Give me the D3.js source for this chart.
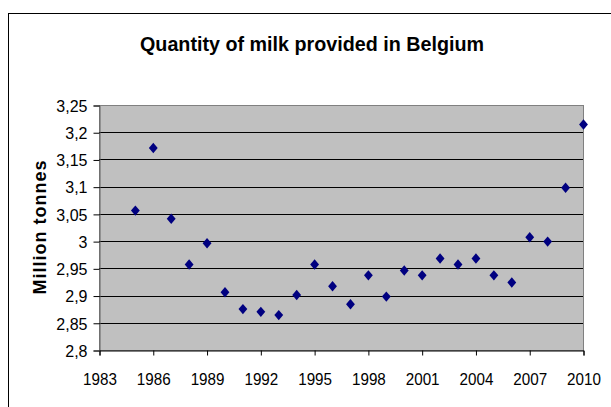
<!DOCTYPE html>
<html>
<head>
<meta charset="utf-8">
<script src="https://cdn.jsdelivr.net/npm/d3@7"></script>
<style>
  html, body { margin: 0; padding: 0; background: #fff; }
  svg { display: block; font-family: Arial, "Liberation Sans", sans-serif; }
</style>
</head>
<body>
<svg id="chart" width="611" height="407"></svg>
<script>
// Milk delivered in Belgium, million tonnes per year
const years = [1985, 1986, 1987, 1988, 1989, 1990, 1991, 1992, 1993, 1994, 1995, 1996, 1997,
               1998, 1999, 2000, 2001, 2002, 2003, 2004, 2005, 2006, 2007, 2008, 2009, 2010];
const milk = [3.057, 3.172, 3.042, 2.958, 2.997, 2.907, 2.876, 2.871, 2.865, 2.902, 2.958, 2.918, 2.885,
              2.938, 2.899, 2.947, 2.938, 2.969, 2.958, 2.969, 2.938, 2.925, 3.008, 3.000, 3.099, 3.215];
const xTicks = [1983, 1986, 1989, 1992, 1995, 1998, 2001, 2004, 2007, 2010];
const yTicks = [2.8, 2.85, 2.9, 2.95, 3, 3.05, 3.1, 3.15, 3.2, 3.25];

const svg = d3.select("#chart");
const plot = { left: 99, right: 583, top: 105, bottom: 350 };
const FONT = "Arial, 'Liberation Sans', sans-serif";

const x = d3.scaleLinear().domain([1983, 2010]).range([plot.left, plot.right]);
const y = d3.scaleLinear().domain([2.8, 3.25]).range([plot.bottom, plot.top]);
const fmt = d => String(+d.toFixed(2)).replace(".", ",");

// Chart frame
svg.append("rect")
  .attr("x", 8.5).attr("y", 13.5).attr("width", 700).attr("height", 500)
  .attr("fill", "#fff").attr("stroke", "#000").attr("stroke-width", 1);

// Title
svg.append("text")
  .attr("x", 312).attr("y", 51)
  .attr("text-anchor", "middle")
  .attr("font-size", 21).attr("font-weight", "bold")
  .attr("textLength", 344).attr("lengthAdjust", "spacingAndGlyphs")
  .text("Quantity of milk provided in Belgium");

// Plot background
svg.append("rect")
  .attr("x", plot.left + 0.5).attr("y", plot.top + 0.5)
  .attr("width", plot.right - plot.left).attr("height", plot.bottom - plot.top)
  .attr("fill", "#c0c0c0").attr("stroke", "#808080").attr("stroke-width", 1);

// Horizontal gridlines
svg.append("g")
  .selectAll("line")
  .data(yTicks.filter(v => v > 2.8 && v < 3.25))
  .join("line")
  .attr("x1", plot.left).attr("x2", plot.right)
  .attr("y1", d => Math.round(y(d)) + 0.5).attr("y2", d => Math.round(y(d)) + 0.5)
  .attr("stroke", "#000").attr("stroke-width", 1);

// Y axis
const yAxis = svg.append("g")
  .attr("transform", `translate(${plot.left + 0.5},0.5)`)
  .call(d3.axisLeft(y).tickValues(yTicks).tickFormat(fmt).tickSizeOuter(0).tickSize(6).tickPadding(6));
yAxis.select(".domain").attr("stroke", "#606060");
yAxis.selectAll(".tick line").attr("stroke", "#000");
yAxis.selectAll(".tick text").attr("font-size", 16).attr("fill", "#000")
  .attr("font-family", FONT).attr("dy", "0.36em");

// X axis
const xAxis = svg.append("g")
  .attr("transform", `translate(0.5,${plot.bottom + 0.5})`)
  .call(d3.axisBottom(x).tickValues(xTicks).tickFormat(d3.format("d")).tickSizeOuter(0).tickSize(5));
xAxis.select(".domain").attr("stroke", "#000");
xAxis.selectAll(".tick line").attr("stroke", "#000");
xAxis.selectAll(".tick text").attr("font-size", 16).attr("fill", "#000")
  .attr("font-family", FONT).attr("y", 34).attr("dy", 0);
xAxis.selectAll(".tick text").each(function () {
  const w = this.getComputedTextLength();
  d3.select(this).attr("textLength", w * 0.95).attr("lengthAdjust", "spacingAndGlyphs");
});

// Y axis title
svg.append("text")
  .attr("transform", `translate(46,${(plot.top + plot.bottom) / 2}) rotate(-90)`)
  .attr("text-anchor", "middle")
  .attr("font-size", 18).attr("font-weight", "bold")
  .attr("textLength", 134).attr("lengthAdjust", "spacing")
  .text("Million tonnes");

// Data markers (diamonds, slightly taller than wide)
const diamond = {
  draw(ctx, size) {
    const h = Math.sqrt(size) * 0.65, w = h * 0.85;
    ctx.moveTo(0, -h); ctx.lineTo(w, 0); ctx.lineTo(0, h); ctx.lineTo(-w, 0); ctx.closePath();
  }
};
svg.append("g")
  .selectAll("path")
  .data(years.map((yr, i) => ({ yr, v: milk[i] })))
  .join("path")
  .attr("transform", d => `translate(${x(d.yr) + 0.5},${y(d.v) + 0.5})`)
  .attr("d", d3.symbol().type(diamond).size(64))
  .attr("fill", "#000080");
</script>
</body>
</html>
